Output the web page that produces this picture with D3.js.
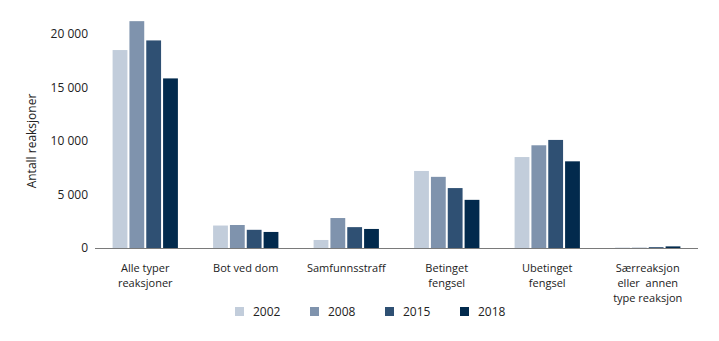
<!DOCTYPE html>
<html>
<head>
<meta charset="utf-8">
<script src="https://cdn.jsdelivr.net/npm/d3@7"></script>
<style>
  body { margin: 0; background: #fff; }
  text { font-family: "Open Sans", sans-serif; fill: #222; }
</style>
</head>
<body>
<script>
var w = 719, h = 341;
var categories = [
  ["Alle typer", "reaksjoner"],
  ["Bot ved dom"],
  ["Samfunnsstraff"],
  ["Betinget", "fengsel"],
  ["Ubetinget", "fengsel"],
  ["Særreaksjon", "eller  annen", "type reaksjon"]
];
var years = ["2002", "2008", "2015", "2018"];
var colors = ["#c2cddb", "#7f93ad", "#2f5073", "#022a4d"];
// values per year, one number per category
var v2002 = [18500, 2100, 750, 7200, 8500, 40];
var v2008 = [21200, 2150, 2800, 6650, 9600, 30];
var v2015 = [19400, 1700, 1950, 5600, 10100, 80];
var v2018 = [15850, 1500, 1780, 4500, 8100, 150];
var series = [v2002, v2008, v2015, v2018];
var yTicks = [0, 5000, 10000, 15000, 20000];

var mLeft = 95, mRight = 698, mTop = 34, mBottom = 248;

var svg = d3.select("body").append("svg").attr("width", w).attr("height", h);

var x0 = d3.scaleBand().domain(d3.range(categories.length)).range([mLeft, mRight]).paddingInner(0.31).paddingOuter(0.155);
var x1 = d3.scaleBand().domain(d3.range(years.length)).range([0, x0.bandwidth()]).padding(0.12);
var y = d3.scaleLinear().domain([0, 20000]).range([mBottom, mTop]);

// y axis labels (no line)
var yAxis = d3.axisLeft(y).tickValues(yTicks).tickSize(0).tickPadding(7)
  .tickFormat(function (d) { return d3.format(",")(d).replace(/,/g, " "); });
var ga = svg.append("g").attr("transform", "translate(" + mLeft + ",0)").call(yAxis);
ga.select(".domain").remove();
ga.selectAll("text").style("font-size", "12px").style("font-family", "Open Sans, sans-serif").attr("fill", "#222");

svg.append("text")
  .attr("transform", "translate(36," + ((mTop + mBottom) / 2) + ") rotate(-90)")
  .attr("text-anchor", "middle")
  .style("font-size", "12px")
  .text("Antall reaksjoner");

// bars
var groups = svg.selectAll("g.grp").data(categories).enter().append("g")
  .attr("class", "grp")
  .attr("transform", function (d, i) { return "translate(" + x0(i) + ",0)"; });

groups.selectAll("rect").data(function (d, i) {
    return series.map(function (s, j) { return { j: j, v: s[i] }; });
  }).enter().append("rect")
  .attr("x", function (d) { return x1(d.j); })
  .attr("y", function (d) { return y(d.v); })
  .attr("width", x1.bandwidth())
  .attr("height", function (d) { return mBottom - y(d.v); })
  .attr("fill", function (d) { return colors[d.j]; });

// baseline
svg.append("line").attr("x1", mLeft).attr("x2", mRight).attr("y1", mBottom + 0.5).attr("y2", mBottom + 0.5)
  .attr("stroke", "#7a7a7a").attr("stroke-width", 1.2);

// category labels, one text per line
categories.forEach(function (lines, i) {
  var cx = x0(i) + x0.bandwidth() / 2;
  lines.forEach(function (l, k) {
    svg.append("text")
      .attr("x", cx)
      .attr("y", 272 + k * 15)
      .attr("text-anchor", "middle")
      .attr("xml:space", "preserve")
      .style("font-size", "11px")
      .text(l);
  });
});

// legend
var leg = svg.selectAll("g.leg").data(years).enter().append("g")
  .attr("class", "leg")
  .attr("transform", function (d, i) { return "translate(" + (235 + i * 75) + ",307)"; });
leg.append("rect").attr("width", 9).attr("height", 9).attr("fill", function (d, i) { return colors[i]; });
leg.append("text").attr("x", 18).attr("y", 9).style("font-size", "12px").text(function (d) { return d; });
</script>
</body>
</html>
